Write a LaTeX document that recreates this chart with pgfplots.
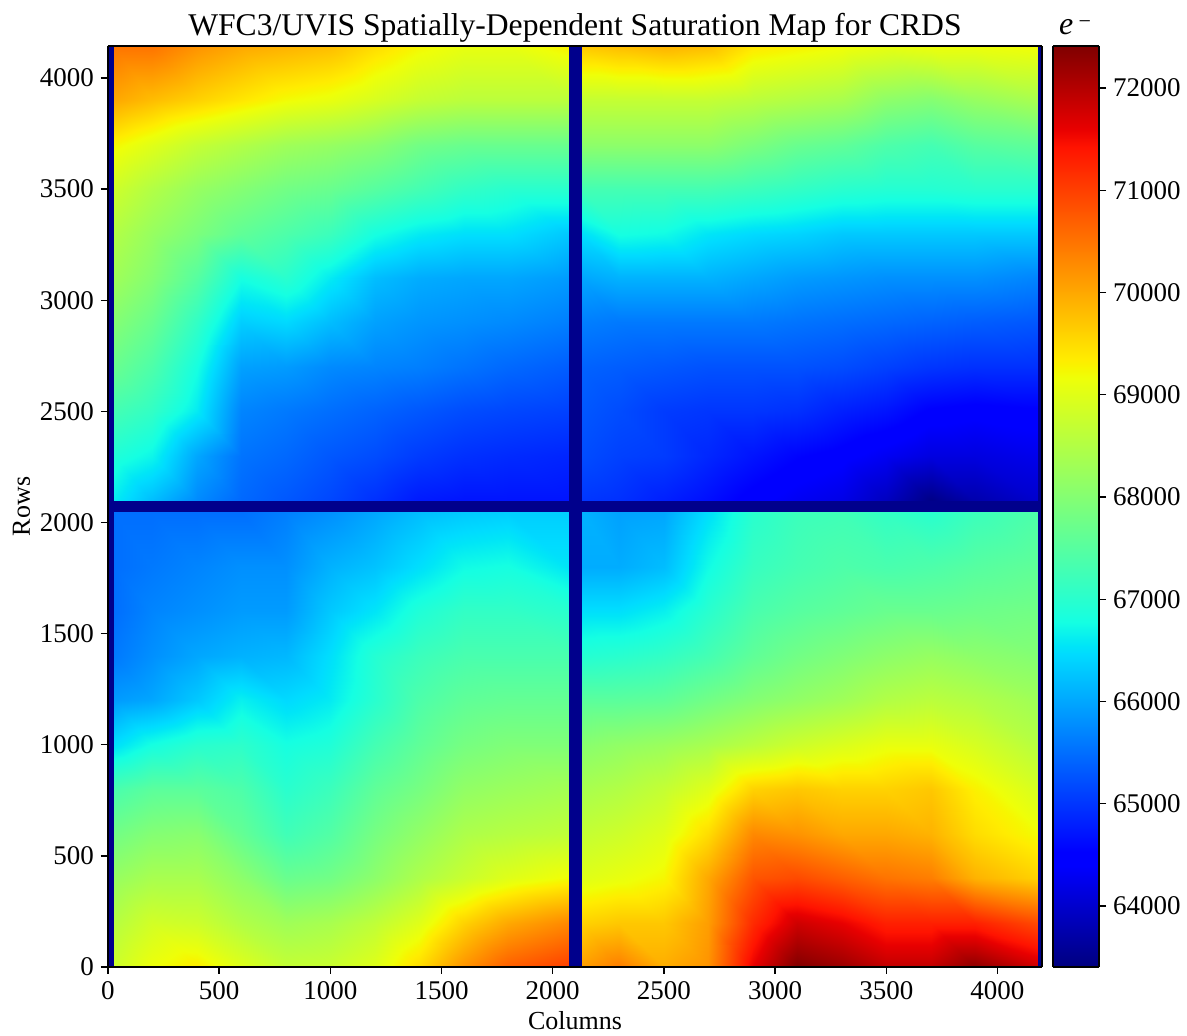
\documentclass[border=0pt]{standalone}
\usepackage{pgfplots}
\pgfplotsset{compat=1.18}
\usepackage{fontspec}
\setmainfont{Liberation Serif}
\pgfplotsset{colormap={mpljet}{
rgb(0pt)=(0,0,.5) rgb(110pt)=(0,0,1) rgb(125pt)=(0,0,1) rgb(340pt)=(0,.86,1)
rgb(350pt)=(0,.9,.968) rgb(375pt)=(.081,1,.887) rgb(640pt)=(.935,1,.032)
rgb(650pt)=(.968,.963,0) rgb(660pt)=(1,.926,0) rgb(890pt)=(1,.074,0)
rgb(910pt)=(.909,0,0) rgb(1000pt)=(.5,0,0)}}
\pgfplotsset{hm/.style={surf,shader=interp,mesh/cols=11,forget plot}}
\begin{document}
\begin{tikzpicture}
\useasboundingbox (-54pt,-34.5pt) rectangle (539.5pt,483.5pt);
\begin{axis}[at={(0pt,0pt)},anchor=south west,scale only axis,width=467pt,height=460.5pt,
 view={0}{90},xmin=0,xmax=4200,ymin=0,ymax=4144,
 point meta min=63403,point meta max=72411,colormap name=mpljet,
 axis line style={line width=.7pt},
 xtick={0,500,...,4000},ytick={0,500,...,4000},
 xtick pos=bottom,ytick pos=left,
 tick style={black,line width=.7pt},tick align=outside,major tick length=3.5pt,
 tick label style={font=\fontsize{13.5}{15}\selectfont},
 /pgf/number format/assume math mode=true,/pgf/number format/1000 sep={},
 title={WFC3/UVIS Spatially-Dependent Saturation Map for CRDS},
 title style={font=\fontsize{15.8}{17}\selectfont,yshift=-7.5pt},
 xlabel={Columns},ylabel={Rows},
 label style={font=\fontsize{13}{15}\selectfont},
 xlabel style={yshift=1pt},ylabel style={yshift=-2pt},
 axis on top]
\addplot3[surf,shader=flat,mesh/cols=2,forget plot] table[row sep=\\]{0 0 63500\\ 4200 0 63500\\ 0 4144 63500\\ 4200 4144 63500\\};
% lower left
\addplot3[hm] table[row sep=\\]{
25 0 68800\\ 200 0 69150\\ 400 0 69350\\ 600 0 69000\\ 800 0 68700\\ 1000 0 68750\\ 1200 0 69000\\ 1400 0 69500\\ 1600 0 70200\\ 1800 0 70700\\ 2069 0 71000\\
25 200 68550\\ 200 200 68850\\ 400 200 68800\\ 600 200 68500\\ 800 200 68300\\ 1000 200 68400\\ 1200 200 68650\\ 1400 200 69000\\ 1600 200 69600\\ 1800 200 70000\\ 2069 200 70300\\
25 400 68200\\ 200 400 68400\\ 400 400 68400\\ 600 400 68100\\ 800 400 67700\\ 1000 400 67800\\ 1200 400 68100\\ 1400 400 68450\\ 1600 400 68750\\ 1800 400 69000\\ 2069 400 69200\\
25 600 67800\\ 200 600 68000\\ 400 600 68050\\ 600 600 67650\\ 800 600 67250\\ 1000 600 67450\\ 1200 600 67850\\ 1400 600 68150\\ 1600 600 68450\\ 1800 600 68550\\ 2069 600 68650\\
25 800 67350\\ 200 800 67550\\ 400 800 67550\\ 600 800 67400\\ 800 800 67000\\ 1000 800 67200\\ 1200 800 67600\\ 1400 800 67850\\ 1600 800 68150\\ 1800 800 68250\\ 2069 800 68350\\
25 1000 66500\\ 200 1000 66800\\ 400 1000 67000\\ 600 1000 67050\\ 800 1000 66800\\ 1000 1000 66900\\ 1200 1000 67300\\ 1400 1000 67600\\ 1600 1000 67850\\ 1800 1000 67950\\ 2069 1000 67950\\
25 1200 65900\\ 200 1200 66000\\ 400 1200 66300\\ 600 1200 66650\\ 800 1200 66450\\ 1000 1200 66600\\ 1200 1200 67000\\ 1400 1200 67400\\ 1600 1200 67600\\ 1800 1200 67650\\ 2069 1200 67650\\
25 1400 65600\\ 200 1400 65800\\ 400 1400 66000\\ 600 1400 66100\\ 800 1400 66150\\ 1000 1400 66500\\ 1200 1400 66950\\ 1400 1400 67200\\ 1600 1400 67350\\ 1800 1400 67350\\ 2069 1400 67350\\
25 1600 65500\\ 200 1600 65700\\ 400 1600 65800\\ 600 1600 65900\\ 800 1600 65900\\ 1000 1600 66300\\ 1200 1600 66550\\ 1400 1600 66900\\ 1600 1600 67100\\ 1800 1600 67100\\ 2069 1600 67000\\
25 1800 65500\\ 200 1800 65600\\ 400 1800 65700\\ 600 1800 65800\\ 800 1800 65800\\ 1000 1800 66100\\ 1200 1800 66250\\ 1400 1800 66500\\ 1600 1800 66750\\ 1800 1800 66800\\ 2069 1800 66550\\
25 2047 65500\\ 200 2047 65500\\ 400 2047 65500\\ 600 2047 65500\\ 800 2047 65650\\ 1000 2047 65800\\ 1200 2047 66000\\ 1400 2047 66200\\ 1600 2047 66300\\ 1800 2047 66350\\ 2069 2047 66350\\
};
% upper left
\addplot3[hm] table[row sep=\\]{
25 2097 66600\\ 200 2097 66200\\ 400 2097 65750\\ 600 2097 65450\\ 800 2097 65300\\ 1000 2097 65150\\ 1200 2097 64950\\ 1400 2097 64750\\ 1600 2097 64700\\ 1800 2097 64700\\ 2069 2097 64700\\
25 2300 66900\\ 200 2300 66700\\ 400 2300 66000\\ 600 2300 65550\\ 800 2300 65450\\ 1000 2300 65300\\ 1200 2300 65200\\ 1400 2300 65050\\ 1600 2300 64950\\ 1800 2300 64900\\ 2069 2300 64850\\
25 2500 67300\\ 200 2500 67100\\ 400 2500 66600\\ 600 2500 65700\\ 800 2500 65600\\ 1000 2500 65500\\ 1200 2500 65400\\ 1400 2500 65300\\ 1600 2500 65200\\ 1800 2500 65150\\ 2069 2500 65100\\
25 2700 67700\\ 200 2700 67400\\ 400 2700 66800\\ 600 2700 65950\\ 800 2700 65900\\ 1000 2700 65750\\ 1200 2700 65700\\ 1400 2700 65650\\ 1600 2700 65550\\ 1800 2700 65450\\ 2069 2700 65350\\
25 2900 68000\\ 200 2900 67700\\ 400 2900 67100\\ 600 2900 66350\\ 800 2900 66450\\ 1000 2900 66200\\ 1200 2900 65950\\ 1400 2900 65850\\ 1600 2900 65800\\ 1800 2900 65750\\ 2069 2900 65650\\
25 3100 68300\\ 200 3100 68000\\ 400 3100 67500\\ 600 3100 66800\\ 800 3100 67000\\ 1000 3100 66600\\ 1200 3100 66200\\ 1400 3100 66050\\ 1600 3100 66000\\ 1800 3100 66000\\ 2069 3100 65900\\
25 3300 68500\\ 200 3300 68200\\ 400 3300 67900\\ 600 3300 67600\\ 800 3300 67400\\ 1000 3300 67200\\ 1200 3300 66800\\ 1400 3300 66600\\ 1600 3300 66500\\ 1800 3300 66500\\ 2069 3300 66300\\
25 3500 68800\\ 200 3500 68500\\ 400 3500 68200\\ 600 3500 68000\\ 800 3500 67800\\ 1000 3500 67700\\ 1200 3500 67500\\ 1400 3500 67300\\ 1600 3500 67100\\ 1800 3500 67000\\ 2069 3500 67000\\
25 3700 69250\\ 200 3700 69000\\ 400 3700 68700\\ 600 3700 68500\\ 800 3700 68300\\ 1000 3700 68200\\ 1200 3700 68050\\ 1400 3700 67800\\ 1600 3700 67700\\ 1800 3700 67700\\ 2069 3700 67700\\
25 3900 70000\\ 200 3900 69800\\ 400 3900 69600\\ 600 3900 69400\\ 800 3900 69200\\ 1000 3900 69100\\ 1200 3900 68900\\ 1400 3900 68700\\ 1600 3900 68600\\ 1800 3900 68600\\ 2069 3900 68600\\
25 4144 70500\\ 200 4144 70500\\ 400 4144 70200\\ 600 4144 70000\\ 800 4144 69900\\ 1000 4144 69800\\ 1200 4144 69500\\ 1400 4144 69250\\ 1600 4144 69100\\ 1800 4144 69100\\ 2069 4144 69300\\
};
% upper right
\addplot3[hm] table[row sep=\\]{
2132 2097 65000\\ 2300 2097 64950\\ 2500 2097 64800\\ 2700 2097 64650\\ 2900 2097 64450\\ 3100 2097 64300\\ 3300 2097 64200\\ 3500 2097 63900\\ 3700 2097 63450\\ 3900 2097 63750\\ 4180 2097 64000\\
2132 2300 65200\\ 2300 2300 65100\\ 2500 2300 65050\\ 2700 2300 64870\\ 2900 2300 64700\\ 3100 2300 64550\\ 3300 2300 64450\\ 3500 2300 64300\\ 3700 2300 64150\\ 3900 2300 64150\\ 4180 2300 64250\\
2132 2500 65300\\ 2300 2500 65200\\ 2500 2500 65050\\ 2700 2500 65000\\ 2900 2500 65000\\ 3100 2500 64950\\ 3300 2500 64800\\ 3500 2500 64700\\ 3700 2500 64500\\ 3900 2500 64450\\ 4180 2500 64500\\
2132 2700 65400\\ 2300 2700 65350\\ 2500 2700 65300\\ 2700 2700 65250\\ 2900 2700 65250\\ 3100 2700 65250\\ 3300 2700 65200\\ 3500 2700 65100\\ 3700 2700 65000\\ 3900 2700 64950\\ 4180 2700 64950\\
2132 2900 65650\\ 2300 2900 65600\\ 2500 2900 65600\\ 2700 2900 65600\\ 2900 2900 65600\\ 3100 2900 65550\\ 3300 2900 65500\\ 3500 2900 65450\\ 3700 2900 65400\\ 3900 2900 65350\\ 4180 2900 65300\\
2132 3100 66000\\ 2300 3100 66100\\ 2500 3100 66100\\ 2700 3100 66100\\ 2900 3100 66000\\ 3100 3100 65900\\ 3300 3100 65850\\ 3500 3100 65800\\ 3700 3100 65800\\ 3900 3100 65800\\ 4180 3100 65700\\
2132 3300 66500\\ 2300 3300 66800\\ 2500 3300 66750\\ 2700 3300 66550\\ 2900 3300 66450\\ 3100 3300 66400\\ 3300 3300 66300\\ 3500 3300 66300\\ 3700 3300 66300\\ 3900 3300 66300\\ 4180 3300 66300\\
2132 3500 67300\\ 2300 3500 67300\\ 2500 3500 67300\\ 2700 3500 67300\\ 2900 3500 67200\\ 3100 3500 67100\\ 3300 3500 67000\\ 3500 3500 66950\\ 3700 3500 66950\\ 3900 3500 67000\\ 4180 3500 67000\\
2132 3700 68100\\ 2300 3700 68100\\ 2500 3700 68100\\ 2700 3700 68100\\ 2900 3700 67900\\ 3100 3700 67700\\ 3300 3700 67600\\ 3500 3700 67400\\ 3700 3700 67300\\ 3900 3700 67500\\ 4180 3700 67600\\
2132 3900 68700\\ 2300 3900 68700\\ 2500 3900 68700\\ 2700 3900 68700\\ 2900 3900 68600\\ 3100 3900 68500\\ 3300 3900 68400\\ 3500 3900 68100\\ 3700 3900 68000\\ 3900 3900 68200\\ 4180 3900 68400\\
2132 4144 69700\\ 2300 4144 69800\\ 2500 4144 69900\\ 2700 4144 69800\\ 2900 4144 69400\\ 3100 4144 69300\\ 3300 4144 69200\\ 3500 4144 69100\\ 3700 4144 69150\\ 3900 4144 69150\\ 4180 4144 69200\\
};
% lower right
\addplot3[hm] table[row sep=\\]{
2132 0 70100\\ 2300 0 70400\\ 2500 0 69950\\ 2700 0 70200\\ 2900 0 71600\\ 3100 0 72400\\ 3300 0 72200\\ 3500 0 71900\\ 3700 0 71900\\ 3900 0 72300\\ 4180 0 71800\\
2132 200 69600\\ 2300 200 69700\\ 2500 200 69700\\ 2700 200 70100\\ 2900 200 71200\\ 3100 200 71800\\ 3300 200 71600\\ 3500 200 71300\\ 3700 200 71300\\ 3900 200 71300\\ 4180 200 70900\\
2132 400 69000\\ 2300 400 69100\\ 2500 400 69250\\ 2700 400 70000\\ 2900 400 70800\\ 3100 400 70900\\ 3300 400 70700\\ 3500 400 70500\\ 3700 400 70400\\ 3900 400 69900\\ 4180 400 69600\\
2132 600 68700\\ 2300 600 68800\\ 2500 600 69000\\ 2700 600 69500\\ 2900 600 70300\\ 3100 600 70200\\ 3300 600 70000\\ 3500 600 70000\\ 3700 600 69900\\ 3900 600 69500\\ 4180 600 69200\\
2132 800 68400\\ 2300 800 68500\\ 2500 800 68700\\ 2700 800 69000\\ 2900 800 69600\\ 3100 800 69700\\ 3300 800 69600\\ 3500 800 69600\\ 3700 800 69700\\ 3900 800 69300\\ 4180 800 68900\\
2132 1000 68050\\ 2300 1000 68150\\ 2500 1000 68250\\ 2700 1000 68400\\ 2900 1000 68600\\ 3100 1000 68800\\ 3300 1000 68950\\ 3500 1000 69100\\ 3700 1000 69100\\ 3900 1000 68900\\ 4180 1000 68550\\
2132 1200 67550\\ 2300 1200 67550\\ 2500 1200 67600\\ 2700 1200 67800\\ 2900 1200 68000\\ 3100 1200 68150\\ 3300 1200 68300\\ 3500 1200 68500\\ 3700 1200 68600\\ 3900 1200 68500\\ 4180 1200 68300\\
2132 1400 66950\\ 2300 1400 67000\\ 2500 1400 67100\\ 2700 1400 67300\\ 2900 1400 67600\\ 3100 1400 67800\\ 3300 1400 67950\\ 3500 1400 68100\\ 3700 1400 68200\\ 3900 1400 68100\\ 4180 1400 68000\\
2132 1600 66500\\ 2300 1600 66500\\ 2500 1600 66650\\ 2700 1600 67000\\ 2900 1600 67350\\ 3100 1600 67500\\ 3300 1600 67600\\ 3500 1600 67700\\ 3700 1600 67700\\ 3900 1600 67750\\ 4180 1600 67800\\
2132 1800 66050\\ 2300 1800 66050\\ 2500 1800 66200\\ 2700 1800 66750\\ 2900 1800 67150\\ 3100 1800 67300\\ 3300 1800 67400\\ 3500 1800 67350\\ 3700 1800 67400\\ 3900 1800 67500\\ 4180 1800 67600\\
2132 2047 66100\\ 2300 2047 65950\\ 2500 2047 66000\\ 2700 2047 66500\\ 2900 2047 67000\\ 3100 2047 67200\\ 3300 2047 67250\\ 3500 2047 67100\\ 3700 2047 67000\\ 3900 2047 67200\\ 4180 2047 67400\\
};
\end{axis}
\begin{axis}[at={(472.5pt,0pt)},anchor=south west,scale only axis,width=23pt,height=460.5pt,
 view={0}{90},xmin=0,xmax=1,ymin=63403,ymax=72411,
 point meta min=63403,point meta max=72411,colormap name=mpljet,
 axis line style={line width=.7pt},
 xtick=\empty,ytick={64000,65000,...,72000},ytick pos=right,yticklabel pos=right,
 tick style={black,line width=.7pt},tick align=outside,major tick length=3.5pt,
 tick label style={font=\fontsize{13.5}{15}\selectfont},
 /pgf/number format/assume math mode=true,/pgf/number format/1000 sep={},
 scaled y ticks=false,
 title={\textit{e}\,\raisebox{3pt}{\fontsize{11}{11}\selectfont −}},title style={font=\fontsize{16}{18}\selectfont,yshift=-4pt,xshift=-0.5pt},
 axis on top]
\addplot3[surf,shader=interp,mesh/cols=2] table[row sep=\\]{
0 63403 63403\\ 1 63403 63403\\
0 64394 64394\\ 1 64394 64394\\
0 64529 64529\\ 1 64529 64529\\
0 66466 66466\\ 1 66466 66466\\
0 66556 66556\\ 1 66556 66556\\
0 66781 66781\\ 1 66781 66781\\
0 69168 69168\\ 1 69168 69168\\
0 69258 69258\\ 1 69258 69258\\
0 69348 69348\\ 1 69348 69348\\
0 71420 71420\\ 1 71420 71420\\
0 71600 71600\\ 1 71600 71600\\
0 72411 72411\\ 1 72411 72411\\
};
\end{axis}
\end{tikzpicture}
\end{document}
